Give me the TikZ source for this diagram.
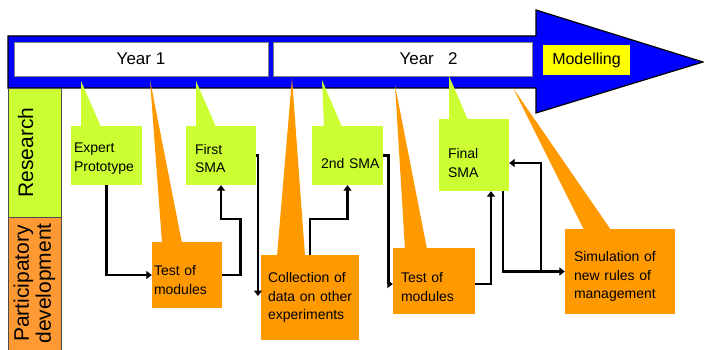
\documentclass[tikz,border=0pt]{standalone}
\usepackage{fontspec}
\setmainfont{Liberation Sans}
\usetikzlibrary{arrows.meta,calc}

\definecolor{arrowblue}{RGB}{0,0,255}
\definecolor{limegreen}{RGB}{204,255,51}
\definecolor{callorange}{RGB}{255,153,0}
\definecolor{laneorange}{RGB}{255,153,51}
\definecolor{modelyellow}{RGB}{255,255,0}

\begin{document}
\begin{tikzpicture}[x=1pt, y=-1pt,
            yearbox/.style={rectangle, draw=black!50, fill=white, minimum height=34pt, inner sep=0pt, font=\fontsize{17}{20}\selectfont},
            lane/.style={rectangle, draw=black!70, fill=#1, rotate=90, minimum height=53pt, inner sep=0pt, align=center, font=\fontsize{21}{22}\selectfont},
            callout/.style={rectangle, fill=#1, inner xsep=8pt, inner ysep=0pt, align=left, font=\fontsize{14}{18.5}\selectfont},
            link/.style={line width=2.6pt, -{Triangle[length=5.5pt,width=8pt]}}]
            \useasboundingbox (0,0) rectangle (704,350);

            % Time arrow
            \draw[fill=arrowblue, line width=1.2pt] (8,36) -- (536,36) -- (536,10) -- (703,62) -- (536,113) -- (536,88) -- (8,88) -- cycle;
            \node[yearbox, minimum width=254pt] (year1) at (141,59) {Year 1};
            \node[yearbox, minimum width=259pt, label={[font=\fontsize{17}{20}\selectfont, xshift=26pt]center:Year~~~2}] (year2) at (402.5,59) {};
            \node[fill=modelyellow, minimum width=87pt, minimum height=30pt, inner sep=0pt, font=\fontsize{16}{19}\selectfont] (model) at (586.5,60) {Modelling};

            % Lanes
            \node[lane=limegreen, minimum width=129pt, text height=15pt, text depth=18pt] (research) at (34.5,152.5) {Research};
            \node[lane=laneorange, minimum width=133pt] (partic) at (34.5,283.5) {Participatory\\development};

            % Pointers
            \fill[limegreen] (81,81) -- (81,127) -- (101,127) -- cycle;
            \fill[limegreen] (196,81) -- (196,127) -- (216,127) -- cycle;
            \fill[limegreen] (322,80) -- (324,127) -- (342,127) -- cycle;
            \fill[limegreen] (449,76) -- (449,120) -- (468,120) -- cycle;
            \fill[callorange] (150,80) -- (162,243) -- (182,243) -- cycle;
            \fill[callorange] (292,78) -- (277,256) -- (305,256) -- cycle;
            \fill[callorange] (395,85) -- (405,249) -- (427,249) -- cycle;
            \fill[callorange] (513,88) -- (584,230) -- (611,230) -- cycle;

            % Research steps
            \node[callout=limegreen, inner xsep=3pt, text width=65pt, minimum height=59pt, text depth=15.5pt] (expert) at (106.5,155.5) {Expert\\Prototype};
            \node[callout=limegreen, inner xsep=9pt, text width=52pt, minimum height=59pt, text depth=12.5pt] (first) at (221,155.5) {First\\SMA};
            \node[callout=limegreen, inner xsep=9pt, text width=53pt, minimum height=59pt, text depth=10.5pt] (second) at (347.5,155.5) {\mbox{}\\2nd~SMA};
            \node[callout=limegreen, inner xsep=9pt, text width=52pt, minimum height=72pt, text depth=2.5pt] (final) at (474,155) {Final\\SMA};

            % Participatory steps
            \node[callout=callorange, inner xsep=2pt, text width=66pt, minimum height=66pt, text depth=8.5pt] (test1) at (187,275) {Test of\\modules};
            \node[callout=callorange, inner xsep=7pt, text width=84pt, minimum height=85pt] (collection) at (310,297.5) {Collection~of\\data~on~other\\experiments};
            \node[callout=callorange, inner xsep=8pt, text width=66pt, minimum height=66pt, text depth=6.5pt] (test2) at (434,281) {Test of\\modules};
            \node[callout=callorange, inner xsep=9pt, text width=92pt, minimum height=85pt, text depth=30pt] (sim) at (620,271.5) {Simulation of\\new rules of\\management};

            % Connections
            \coordinate (dataIn) at (258,296);
            \draw[link] (expert.south) |- (test1.west);
            \draw[link] (test1.east) -| ++(18,-56) -| (first.south);
            \draw[link] (first.east) -| (dataIn);
            \draw[link] (collection.north) -- ++(0,-36) -| (second.south);
            \draw[link] (second.east) -- ++(5,0) |- ([yshift=-3pt]test2.west);
            \draw[link] ([yshift=-3pt]test2.east) -| ([xshift=17pt]final.south);
            \draw[link] ([xshift=29pt]final.south) |- (sim.west);
            \draw[link] ($(sim.west)+(-24,0)$) |- ([yshift=-8pt]final.east);
        \end{tikzpicture}
\end{document}
